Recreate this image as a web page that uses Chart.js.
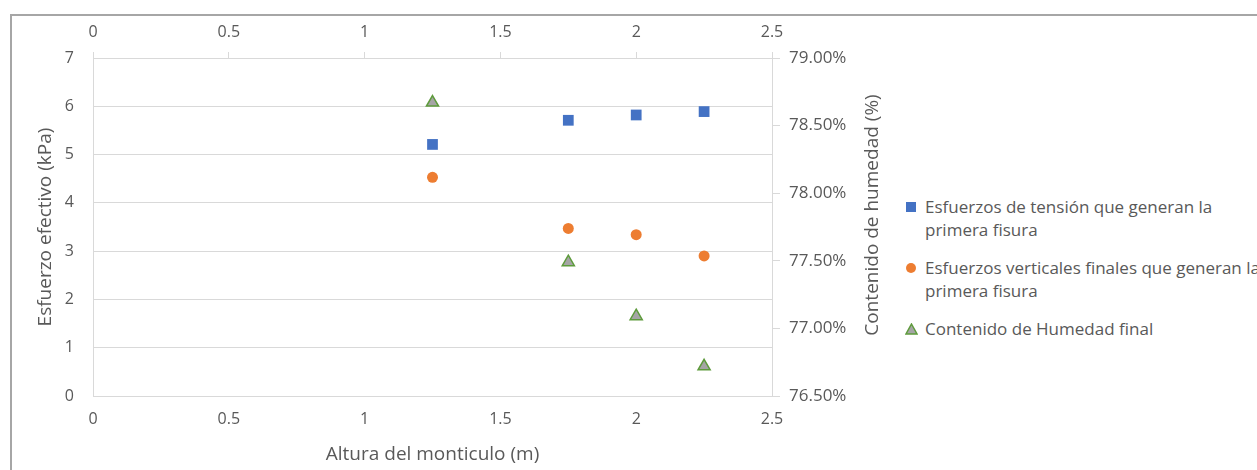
<!DOCTYPE html>
<html>
<head>
<meta charset="utf-8">
<script src="https://cdn.jsdelivr.net/npm/chart.js@4.4.1/dist/chart.umd.min.js"></script>
<style>
  html, body { margin: 0; padding: 0; width: 1257px; height: 470px; overflow: hidden; background: #fff; font-family: 'Open Sans', sans-serif; }
  #frame { position: absolute; left: 10px; top: 14px; width: 2000px; height: 2000px; border: 2px solid #a6a6a6; box-sizing: border-box; }
  #wrap { position: absolute; left: 0; top: 0; width: 885px; height: 470px; }
  #legend { position: absolute; left: 905px; top: 195px; color: #595959; font-size: 17px; line-height: 23px; white-space: nowrap; }
  .item { position: relative; padding-left: 20px; margin-bottom: 15px; }
  .item svg { position: absolute; left: 0; top: 6px; }
</style>
</head>
<body>
<div id="frame"></div>
<div id="wrap"><canvas id="c" width="885" height="470"></canvas></div>
<div id="legend"></div>
<script>
// Data
const alturas = [1.25, 1.75, 2.0, 2.25];
const esfuerzoTension = [5.21, 5.71, 5.82, 5.89];
const esfuerzoVertical = [4.53, 3.47, 3.34, 2.90];
const humedadFinal = [78.67, 77.49, 77.09, 76.72];
const xTicks = [0, 0.5, 1, 1.5, 2, 2.5];
const legendLines = [
  ['Esfuerzos de tensión que generan la', 'primera fisura'],
  ['Esfuerzos verticales finales que generan la', 'primera fisura'],
  ['Contenido de Humedad final']
];
const rightTitle = 'Contenido de humedad (%)';

const toPts = (xs, ys) => xs.map((x, i) => ({ x: x, y: ys[i] }));
const TXT = '#595959';
const GRID = '#d9d9d9';
const FAM = "'Open Sans', sans-serif";

Chart.defaults.font.family = FAM;
Chart.defaults.color = TXT;

// Right-axis title reading bottom-to-top, as in the reference
const rightTitlePlugin = {
  id: 'rightTitle',
  afterDraw(chart) {
    const ctx = chart.ctx;
    const s = chart.scales.y2;
    ctx.save();
    ctx.font = '19px ' + FAM;
    ctx.fillStyle = TXT;
    ctx.textAlign = 'center';
    ctx.textBaseline = 'middle';
    ctx.translate(s.right - 12, (s.top + s.bottom) / 2 - 12);
    ctx.rotate(-Math.PI / 2);
    ctx.fillText(rightTitle, 0, 0);
    ctx.restore();
  }
};

const chart = new Chart(document.getElementById('c'), {
  type: 'scatter',
  data: {
    datasets: [
      { label: legendLines[0].join(' '), data: toPts(alturas, esfuerzoTension), pointStyle: 'rect', pointRadius: 7.6, pointHoverRadius: 7.6,
        backgroundColor: '#4472C4', borderColor: '#4472C4', borderWidth: 0, xAxisID: 'x', yAxisID: 'y' },
      { label: legendLines[1].join(' '), data: toPts(alturas, esfuerzoVertical), pointStyle: 'circle', pointRadius: 5.5, pointHoverRadius: 5.5,
        backgroundColor: '#ED7D31', borderColor: '#ED7D31', borderWidth: 0, xAxisID: 'x', yAxisID: 'y' },
      { label: legendLines[2].join(' '), data: toPts(alturas, humedadFinal), pointStyle: 'triangle', pointRadius: 7, pointHoverRadius: 7,
        backgroundColor: '#A5A5A5', borderColor: '#5E9B3C', borderWidth: 1.5, xAxisID: 'x', yAxisID: 'y2' }
    ]
  },
  plugins: [rightTitlePlugin],
  options: {
    responsive: false,
    animation: false,
    layout: { padding: { left: 30, top: 0, right: 0, bottom: 0 } },
    plugins: { legend: { display: false }, tooltip: { enabled: false } },
    scales: {
      x: {
        type: 'linear', position: 'bottom', min: 0, max: 2.5,
        afterBuildTicks: s => { s.ticks = xTicks.map(v => ({ value: v })); },
        ticks: { font: { size: 16 }, padding: 14, color: TXT, callback: v => String(v) },
        grid: { drawOnChartArea: false, drawTicks: false, color: GRID },
        border: { color: GRID, width: 1 },
        title: { display: true, text: 'Altura del monticulo (m)', font: { size: 19 }, color: TXT },
        afterFit: s => { s.height = 74; }
      },
      x2: {
        type: 'linear', position: 'top', min: 0, max: 2.5,
        afterBuildTicks: s => { s.ticks = xTicks.map(v => ({ value: v })); },
        ticks: { font: { size: 16 }, padding: 10, color: TXT, callback: v => String(v) },
        grid: { drawOnChartArea: false, drawTicks: true, tickLength: 6, color: GRID },
        border: { color: GRID, width: 1 },
        afterFit: s => { s.height = 58; }
      },
      y: {
        type: 'linear', position: 'left', min: 0, max: 7,
        ticks: { stepSize: 1, font: { size: 16 }, padding: 19, color: TXT },
        grid: { color: GRID, drawTicks: false },
        border: { color: GRID, width: 1 },
        title: { display: true, text: 'Esfuerzo efectivo (kPa)', font: { size: 19 }, color: TXT },
        afterFit: s => { s.width = 63; }
      },
      y2: {
        type: 'linear', position: 'right', min: 76.5, max: 79,
        ticks: { stepSize: 0.5, font: { size: 17 }, padding: 9, color: TXT, callback: v => v.toFixed(2) + '%' },
        grid: { drawOnChartArea: false, drawTicks: true, tickLength: 8, color: GRID },
        border: { color: GRID, width: 1 },
        afterFit: s => { s.width = 113; }
      }
    }
  }
});

// HTML legend built from chart datasets
const leg = document.getElementById('legend');
chart.data.datasets.forEach((ds, i) => {
  const div = document.createElement('div');
  div.className = 'item';
  let icon = '';
  if (ds.pointStyle === 'rect') icon = `<svg width="12" height="12"><rect x="1" y="1" width="10" height="10" fill="${ds.backgroundColor}"/></svg>`;
  else if (ds.pointStyle === 'circle') icon = `<svg width="12" height="12"><circle cx="6" cy="6" r="5" fill="${ds.backgroundColor}"/></svg>`;
  else icon = `<svg width="13" height="12"><polygon points="6.5,1 12,11 1,11" fill="${ds.backgroundColor}" stroke="${ds.borderColor}" stroke-width="1.5"/></svg>`;
  div.innerHTML = icon + legendLines[i].join('<br>');
  leg.appendChild(div);
});
</script>
</body>
</html>
